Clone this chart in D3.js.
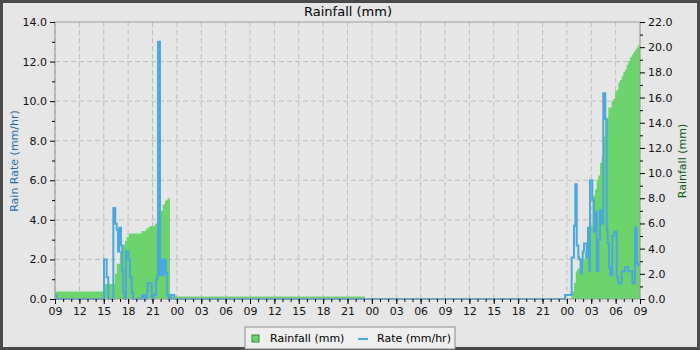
<!DOCTYPE html>
<html>
<head>
<meta charset="utf-8">
<script src="https://cdn.jsdelivr.net/npm/d3@7"></script>
<style>
  body { margin: 0; background: #e6e6e6; }
  text { font-family: "DejaVu Sans", sans-serif; }
</style>
</head>
<body>
<div class="canva"></div>
<script>
// hours after 09:00 on the first day
var rainHours = [0, 6.0, 7.38, 7.6, 8.0, 8.33, 8.6, 8.8, 9.07, 10.67, 11.2, 11.5, 11.7, 12.3, 12.84, 13.25, 13.54, 13.74, 13.95, 14.15,
                 38.15, 63.5, 63.67, 63.88, 64.09, 64.28, 64.6, 64.8, 65.2, 65.45, 65.64, 65.97, 66.13, 66.46, 66.67, 66.87, 67.08,
                 67.28, 67.48, 67.69, 67.9, 68.1, 68.5, 68.7, 68.92, 69.13, 69.33, 69.54, 69.74, 69.94, 70.15, 70.36, 70.56, 70.77,
                 70.98, 71.18, 71.38, 71.59, 71.8, 72];
var rainTotals = [0.6, 1.2, 2.0, 2.8, 3.8, 4.3, 4.6, 4.9, 5.2, 5.4, 5.6, 5.7, 5.8, 6.0, 7.0, 7.5, 7.8, 7.9, 8.0, 0.2,
                  0, 0.2, 0.6, 1.3, 2.2, 2.4, 2.9, 3.1, 3.7, 4.1, 4.3, 5.8, 8.2, 8.7, 9.5, 9.8, 10.8,
                  11.3, 12.9, 14.3, 14.4, 15.2, 15.7, 15.9, 16.5, 16.6, 17.2, 17.4, 17.7, 18.0, 18.2, 18.6, 18.9, 19.2,
                  19.4, 19.6, 19.8, 20.0, 20.2, 20.4];

var rateHours = [0, 0.2, 6.03, 6.36, 6.56, 7.18, 7.42, 7.6, 7.75, 7.91, 8.12, 8.28, 8.4, 8.55, 8.74, 9.02, 9.23, 9.44, 9.6,
                 10.67, 10.83, 11.0, 11.2, 11.32, 11.4, 11.9, 12.1, 12.43, 12.59, 12.68, 12.92, 13.13, 13.25, 13.42, 13.66,
                 13.82, 13.97, 14.28, 14.68, 62.77, 63.59, 63.88, 64.04, 64.21, 64.41, 64.53, 64.7, 64.86, 64.95, 65.11,
                 65.44, 65.6, 65.76, 65.85, 66.13, 66.34, 66.5, 66.67, 66.87, 67.08, 67.32, 67.48, 67.73, 67.9, 68.02,
                 68.18, 68.34, 68.59, 68.84, 69.13, 69.33, 69.75, 70.15, 70.56, 71.05, 71.38, 71.59, 71.79, 72];
var rateValues = [0.2, 0, 2.0, 1.1, 0, 4.6, 3.8, 3.5, 2.4, 3.6, 2.7, 1.4, 0.3, 0, 2.4, 2.0, 1.1, 0.3, 0,
                  0.2, 0, 0.2, 0, 0.4, 0.8, 0, 0.2, 1.0, 1.2, 13.0, 1.2, 2.0, 1.2, 2.0, 1.3,
                  0.2, 0, 0.2, 0, 0.2, 2.1, 3.7, 5.8, 2.7, 2.1, 2.0, 1.3, 2.0, 2.4, 2.8,
                  2.1, 3.6, 1.4, 6.0, 5.0, 3.4, 4.4, 1.4, 3.0, 4.5, 3.8, 10.4, 9.1, 3.5, 2.8,
                  1.6, 1.2, 3.2, 3.4, 1.1, 0.8, 1.4, 1.6, 1.4, 0.8, 3.6, 1.8, 1.7, 1.7];

var rateTicks = [0, 2, 4, 6, 8, 10, 12, 14];
var rainTicks = [0, 2, 4, 6, 8, 10, 12, 14, 16, 18, 20, 22];

const start = new Date(2024, 0, 1, 9);
const toDate = (h) => new Date(start.getTime() + h * 3600000);

const svg = d3.select(".canva").append("svg")
              .attr("width", 700)
              .attr("height", 350);

svg.append("rect")
   .attr("x", 1.5).attr("y", 1.5)
   .attr("width", 697).attr("height", 347)
   .attr("fill", "#e6e6e6")
   .attr("stroke", "#4a4a4a")
   .attr("stroke-width", 3);

const margin = {top: 22, right: 60, bottom: 51, left: 55};
const graphWidth = 700 - margin.left - margin.right;
const graphHeight = 350 - margin.top - margin.bottom;

const g = svg.append("g")
             .attr("transform", `translate(${margin.left},${margin.top})`);

var x = d3.scaleTime()
          .domain([toDate(0), toDate(72)])
          .range([0, graphWidth]);

var yRate = d3.scaleLinear().domain([0, 14]).range([graphHeight, 0]);
var yRain = d3.scaleLinear().domain([0, 22]).range([graphHeight, 0]);

var hourTicks = d3.timeHour.every(3).range(toDate(0), toDate(72.01));

// grid
g.selectAll(".vgrid")
 .data(hourTicks)
 .enter().append("line")
 .attr("x1", d => x(d)).attr("x2", d => x(d))
 .attr("y1", 0).attr("y2", graphHeight)
 .attr("stroke", "#bcbcbc")
 .attr("stroke-dasharray", "5,3");

g.selectAll(".hgrid")
 .data(rateTicks.slice(1, -1))
 .enter().append("line")
 .attr("x1", 0).attr("x2", graphWidth)
 .attr("y1", d => yRate(d)).attr("y2", d => yRate(d))
 .attr("stroke", "#bcbcbc")
 .attr("stroke-dasharray", "5,3");

var rainData = rainHours.map((h, i) => ({t: toDate(h), v: rainTotals[i]}));
var rateData = rateHours.map((h, i) => ({t: toDate(h), v: rateValues[i]}));

var rainArea = d3.area()
                 .curve(d3.curveStepAfter)
                 .x(d => x(d.t))
                 .y0(graphHeight)
                 .y1(d => yRain(d.v));

var rateLine = d3.line()
                 .curve(d3.curveStepAfter)
                 .x(d => x(d.t))
                 .y(d => yRate(d.v));

g.append("path")
 .attr("d", rainArea(rainData))
 .attr("fill", "#6dd46d");

g.append("path")
 .attr("d", rateLine(rateData))
 .attr("fill", "none")
 .attr("stroke", "#4aa8dc")
 .attr("stroke-width", 2);

// frame
g.append("rect")
 .attr("width", graphWidth).attr("height", graphHeight)
 .attr("fill", "none")
 .attr("stroke", "#9a9a9a");

// axes
var xAxis = d3.axisBottom(x)
              .tickValues(hourTicks)
              .tickFormat(d3.timeFormat("%H"))
              .tickSize(5);
var xMinor = d3.axisBottom(x)
               .ticks(d3.timeHour.every(1))
               .tickFormat("")
               .tickSize(3);
g.append("g").attr("class", "axis").attr("transform", `translate(0,${graphHeight})`).call(xMinor);
g.append("g").attr("class", "axis").attr("transform", `translate(0,${graphHeight})`).call(xAxis);

var yLeft = d3.axisLeft(yRate).tickValues(rateTicks).tickFormat(d3.format(".1f")).tickSize(5);
var yLeftMinor = d3.axisLeft(yRate).tickValues(d3.range(1, 14, 2)).tickFormat("").tickSize(3);
g.append("g").attr("class", "axis").call(yLeft);
g.append("g").attr("class", "axis").call(yLeftMinor);

var yRight = d3.axisRight(yRain).tickValues(rainTicks).tickFormat(d3.format(".1f")).tickSize(5);
var yRightMinor = d3.axisRight(yRain).tickValues(d3.range(1, 22, 2)).tickFormat("").tickSize(3);
g.append("g").attr("class", "axis").attr("transform", `translate(${graphWidth},0)`).call(yRight);
g.append("g").attr("class", "axis").attr("transform", `translate(${graphWidth},0)`).call(yRightMinor);

g.selectAll(".axis .domain").remove();
g.selectAll(".axis line").attr("stroke", "#000");
g.selectAll(".axis text").attr("font-size", 11).attr("fill", "#111")
 .attr("font-family", "DejaVu Sans, sans-serif");

// titles
svg.append("text")
   .attr("x", 348).attr("y", 16)
   .attr("text-anchor", "middle")
   .attr("font-size", 13)
   .attr("fill", "#000")
   .text("Rainfall (mm)");

svg.append("text")
   .attr("transform", "translate(18,161) rotate(-90)")
   .attr("text-anchor", "middle")
   .attr("font-size", 11)
   .attr("fill", "#1f6ea6")
   .text("Rain Rate (mm/hr)");

svg.append("text")
   .attr("transform", "translate(686,161) rotate(-90)")
   .attr("text-anchor", "middle")
   .attr("font-size", 11)
   .attr("fill", "#0b5a0b")
   .text("Rainfall (mm)");

// legend
const legend = svg.append("g").attr("transform", "translate(245,327)");
legend.append("rect")
      .attr("width", 210).attr("height", 22)
      .attr("fill", "#eeeeee")
      .attr("stroke", "#8a8a8a");
legend.append("rect")
      .attr("x", 7).attr("y", 8).attr("width", 7).attr("height", 7)
      .attr("fill", "#6dd46d")
      .attr("stroke", "#3a8a3a");
legend.append("text")
      .attr("x", 25).attr("y", 15)
      .attr("font-size", 11)
      .text("Rainfall (mm)");
legend.append("line")
      .attr("x1", 113).attr("x2", 123)
      .attr("y1", 12).attr("y2", 12)
      .attr("stroke", "#4aa8dc")
      .attr("stroke-width", 2);
legend.append("text")
      .attr("x", 132).attr("y", 15)
      .attr("font-size", 11)
      .text("Rate (mm/hr)");
</script>
</body>
</html>
